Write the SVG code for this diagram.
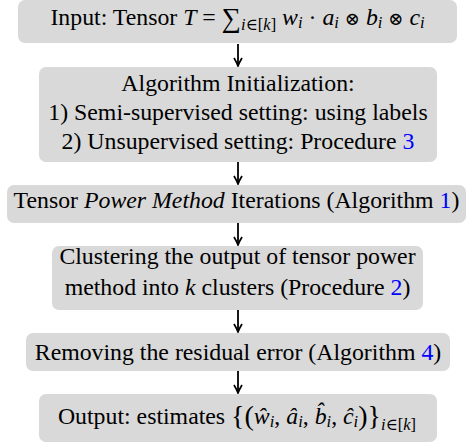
<svg xmlns="http://www.w3.org/2000/svg" width="467" height="443" viewBox="0 0 467 443">
<defs>
<style>
.box{fill:#d9d9d9;}
.t{font-family:"Liberation Serif","DejaVu Serif",serif;font-size:23.8px;fill:#000;text-anchor:middle;}
.i{font-style:italic;}
.b{fill:#0000ff;}
.s{font-size:16.5px;}
.m{font-family:"DejaVu Serif",serif;font-size:18px;}
.c{stroke:#000;stroke-width:1.8;fill:none;}
</style>
<marker id="ah" viewBox="0 0 10 10" refX="9" refY="5" markerWidth="10" markerHeight="10" markerUnits="userSpaceOnUse" orient="auto">
<path d="M1,1 Q6,4 9,5 Q6,6 1,9" fill="none" stroke="#000" stroke-width="1.7"/>
</marker>
</defs>
<rect width="467" height="443" fill="#fff"/>
<g id="connectors">
<line class="c" x1="238" y1="44" x2="238" y2="66" marker-end="url(#ah)"/>
<line class="c" x1="238" y1="162" x2="238" y2="184" marker-end="url(#ah)"/>
<line class="c" x1="238" y1="223" x2="238" y2="245" marker-end="url(#ah)"/>
<line class="c" x1="238" y1="310" x2="238" y2="332" marker-end="url(#ah)"/>
<line class="c" x1="238" y1="371" x2="238" y2="393" marker-end="url(#ah)"/>
</g>
<g id="n1">
<rect class="box" x="18" y="0" width="439" height="43" rx="7"/>
<text class="t" x="237.5" y="25">Input: Tensor <tspan class="i">T</tspan> = <tspan font-size="27" dy="2">∑</tspan><tspan class="s i" dy="3">i</tspan><tspan class="s">∈[</tspan><tspan class="s i">k</tspan><tspan class="s">]</tspan><tspan dy="-5"> </tspan><tspan class="i">w</tspan><tspan class="s i" dy="3">i</tspan><tspan dy="-3"> · </tspan><tspan class="i">a</tspan><tspan class="s i" dy="3">i</tspan><tspan dy="-3"> </tspan><tspan class="m">⊗</tspan><tspan> </tspan><tspan class="i">b</tspan><tspan class="s i" dy="3">i</tspan><tspan dy="-3"> </tspan><tspan class="m">⊗</tspan><tspan> </tspan><tspan class="i">c</tspan><tspan class="s i" dy="3">i</tspan></text>
</g>
<g id="n2">
<rect class="box" x="39" y="67" width="398" height="95" rx="7"/>
<text class="t" x="238" y="91">Algorithm Initialization:</text>
<text class="t" x="238" y="120">1) Semi-supervised setting: using labels</text>
<text class="t" x="238" y="149">2) Unsupervised setting: Procedure <tspan class="b">3</tspan></text>
</g>
<g id="n3">
<rect class="box" x="7" y="185" width="459" height="38" rx="7"/>
<text class="t" x="236.5" y="208">Tensor <tspan class="i">Power Method</tspan> Iterations (Algorithm <tspan class="b">1</tspan>)</text>
</g>
<g id="n4">
<rect class="box" x="52" y="246" width="371" height="64" rx="7"/>
<text class="t" x="237.5" y="264">Clustering the output of tensor power</text>
<text class="t" x="237.5" y="295">method into <tspan class="i">k</tspan> clusters (Procedure <tspan class="b">2</tspan>)</text>
</g>
<g id="n5">
<rect class="box" x="26" y="333" width="424" height="38" rx="7"/>
<text class="t" x="238" y="360">Removing the residual error (Algorithm <tspan class="b">4</tspan>)</text>
</g>
<g id="n6">
<rect class="box" x="39" y="394" width="398" height="48" rx="7"/>
<text class="t" x="237" y="424">Output: estimates <tspan font-size="28" dy="1">{(</tspan><tspan class="i" dy="-1">ŵ</tspan><tspan class="s i" dy="3">i</tspan><tspan dy="-3">, </tspan><tspan class="i">â</tspan><tspan class="s i" dy="3">i</tspan><tspan dy="-3">, </tspan><tspan class="i">b̂</tspan><tspan class="s i" dy="3">i</tspan><tspan dy="-3">, </tspan><tspan class="i">ĉ</tspan><tspan class="s i" dy="3">i</tspan><tspan font-size="28" dy="-2">)}</tspan><tspan class="s" dy="5"><tspan class="i">i</tspan>∈[<tspan class="i">k</tspan>]</tspan></text>
</g>
</svg>
